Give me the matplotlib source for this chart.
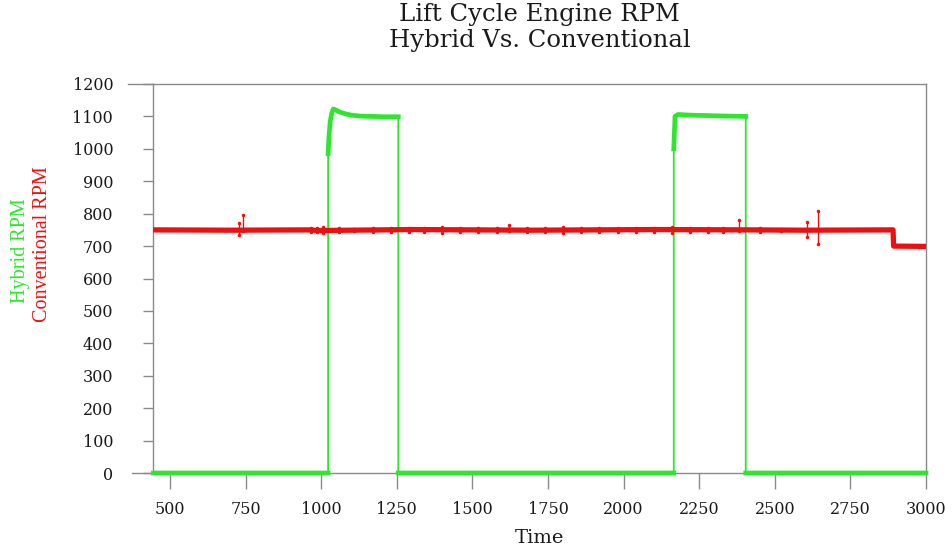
import numpy as np
import matplotlib
matplotlib.use("Agg")
import matplotlib.pyplot as plt

# Hybrid RPM (green)
hybrid_time = [445, 1023, 1023, 1026, 1030, 1035, 1040, 1048, 1060, 1080, 1100, 1130,
               1170, 1210, 1253, 1255, 1255, 2166, 2166, 2170, 2180, 2220, 2260, 2300,
               2350, 2402, 2404, 2404, 3000]
hybrid_rpm = [0, 0, 985, 1040, 1085, 1110, 1123, 1120, 1114, 1108, 1104, 1101,
              1100, 1099, 1099, 1099, 0, 0, 1000, 1100, 1106, 1104, 1103, 1102,
              1101, 1100, 1100, 0, 0]

# Conventional RPM (red)
conv_time = [445, 700, 960, 990, 1300, 1700, 2100, 2420, 2600, 2891, 2893, 3000]
conv_rpm = [750, 749, 750, 748, 751, 749, 751, 750, 749, 750, 700, 699]

# noise spikes on the conventional trace: time, low, high
spike_time = [728, 742, 965, 985, 1005, 1060, 1110, 1170, 1230, 1290, 1340, 1400, 1460,
              1520, 1580, 1620, 1680, 1740, 1800, 1860, 1920, 1980, 2040, 2100, 2160,
              2220, 2280, 2330, 2381, 2450, 2520, 2608, 2644]
spike_lo = [735, 745, 742, 744, 741, 743, 745, 742, 744, 742, 743, 741, 744,
            742, 742, 745, 743, 742, 741, 744, 742, 742, 743, 742, 741,
            744, 742, 743, 745, 744, 745, 727, 706]
spike_hi = [770, 796, 757, 755, 758, 756, 754, 757, 755, 757, 756, 758, 755,
            757, 757, 766, 756, 757, 758, 755, 757, 757, 756, 757, 758,
            755, 757, 756, 781, 755, 754, 775, 809]

x_ticks = [500, 750, 1000, 1250, 1500, 1750, 2000, 2250, 2500, 2750, 3000]
y_ticks = [0, 100, 200, 300, 400, 500, 600, 700, 800, 900, 1000, 1100, 1200]

GREEN = "#2fe62f"
RED = "#ee1010"
GRAY = "#8a8a8a"

fig = plt.figure(figsize=(9.53, 5.52), dpi=100)
ax = fig.add_axes([153 / 953, 1 - 473 / 552, (926 - 153) / 953, (473 - 84) / 552])

# green: thin verticals, thick levels
ht = np.array(hybrid_time, dtype=float)
hr = np.array(hybrid_rpm, dtype=float)
ax.plot(ht, hr, color=GREEN, lw=1.3, clip_on=False, zorder=3)
brk = np.where(np.diff(ht) == 0)[0] + 1
ax.plot(np.insert(ht, brk, np.nan), np.insert(hr, brk, np.nan),
        color=GREEN, lw=3.4, clip_on=False, zorder=3)

# red trace with spikes
ax.plot(conv_time, conv_rpm, color=RED, lw=3.8, zorder=4)
ax.vlines(spike_time, spike_lo, spike_hi, color=RED, lw=1.0, zorder=4)
ax.plot(spike_time, spike_hi, ls="none", marker="o", ms=1.5, color=RED, zorder=4)
ax.plot(spike_time, spike_lo, ls="none", marker="o", ms=1.5, color=RED, zorder=4)

ax.set_xlim(444, 3000)
ax.set_ylim(0, 1200)
ax.set_xticks(x_ticks)
ax.set_yticks(y_ticks)

tick_font = {"family": "DejaVu Serif", "size": 11.5}
ax.set_xticklabels([str(v) for v in x_ticks], fontdict=tick_font, color="#1a1a1a")
ax.set_yticklabels([str(v) for v in y_ticks], fontdict=tick_font, color="#1a1a1a")
ax.tick_params(axis="x", direction="out", length=11.5, width=1, color=GRAY, pad=8.5)
ax.tick_params(axis="y", direction="out", length=7.2, width=1, color=GRAY, pad=21.5)

for s in ax.spines.values():
    s.set_color(GRAY)
    s.set_linewidth(1)

# frame lines reaching past the left spine
ax.plot([-25 / 773, 0], [1, 1], transform=ax.transAxes, clip_on=False, color=GRAY, lw=1)
ax.plot([-21 / 773, 0], [0, 0], transform=ax.transAxes, clip_on=False, color=GRAY, lw=1)

fig.text(539.5 / 953, 1 - 15 / 552, "Lift Cycle Engine RPM", ha="center", va="center",
         family="DejaVu Serif", size=17.5, color="#1a1a1a")
fig.text(539.5 / 953, 1 - 40 / 552, "Hybrid Vs. Conventional", ha="center", va="center",
         family="DejaVu Serif", size=17.5, color="#1a1a1a")
fig.text(539.5 / 953, 1 - 538 / 552, "Time", ha="center", va="center",
         family="DejaVu Serif", size=14, color="#1a1a1a")

fig.text(21 / 953, 1 - 251 / 552, "Hybrid RPM", rotation=90, ha="center", va="center",
         family="Liberation Serif", size=14.5, color=GREEN)
fig.text(43 / 953, 1 - 244 / 552, "Conventional RPM", rotation=90, ha="center", va="center",
         family="Liberation Serif", size=14.5, color=RED)

fig.savefig("out.png", dpi=100)
